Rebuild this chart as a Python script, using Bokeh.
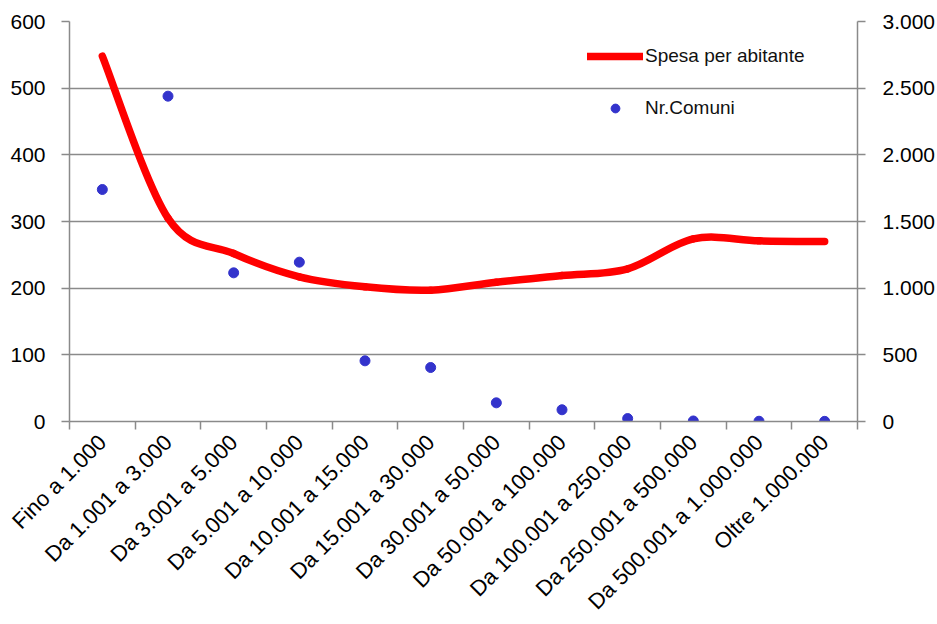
import numpy as np
from bokeh.plotting import figure
from bokeh.models import Range1d, LinearAxis, FixedTicker, Legend, LegendItem, ColumnDataSource
from bokeh.embed import file_html
from bokeh.resources import INLINE

categories = ["Fino a 1.000", "Da 1.001 a 3.000", "Da 3.001 a 5.000", "Da 5.001 a 10.000",
              "Da 10.001 a 15.000", "Da 15.001 a 30.000", "Da 30.001 a 50.000",
              "Da 50.001 a 100.000", "Da 100.001 a 250.000", "Da 250.001 a 500.000",
              "Da 500.001 a 1.000.000", "Oltre 1.000.000"]
spesa = [548, 305, 252, 217, 202, 197, 209, 219, 229, 274, 271, 270]
comuni = [1740, 2440, 1115, 1195, 455, 405, 140, 88, 22, 4, 2, 1]
left_ticks = [0, 100, 200, 300, 400, 500, 600]
right_ticks = [0, 500, 1000, 1500, 2000, 2500, 3000]
right_labels = ["0", "500", "1.000", "1.500", "2.000", "2.500", "3.000"]

FONT = "Liberation Sans"
GRAY = "#8a8a8a"

n = len(categories)
xc = np.arange(n) + 0.5

p = figure(frame_width=788, frame_height=400, output_backend="svg", toolbar_location=None,
           x_range=Range1d(0, n), y_range=Range1d(0, 600),
           min_border_left=69, min_border_right=72, min_border_top=21, min_border_bottom=180)
p.outline_line_color = None
p.background_fill_color = "white"
p.border_fill_color = "white"
p.extra_y_ranges = {"right": Range1d(0, 3000)}

# grid
p.xgrid.visible = False
p.ygrid.ticker = FixedTicker(ticks=left_ticks)
p.ygrid.grid_line_color = GRAY
p.ygrid.grid_line_width = 1.5

# x axis
xa = p.xaxis[0]
xa.ticker = FixedTicker(ticks=list(xc), minor_ticks=list(range(n + 1)))
xa.major_label_overrides = {float(x): c for x, c in zip(xc, categories)}
xa.major_tick_line_color = None
xa.minor_tick_line_color = GRAY
xa.minor_tick_line_width = 1.5
xa.minor_tick_out = 8
xa.minor_tick_in = 0
xa.axis_line_color = GRAY
xa.axis_line_width = 1.5
xa.major_label_orientation = np.pi / 4
xa.major_label_text_font = FONT
xa.major_label_text_font_size = "22px"
xa.major_label_text_color = "black"
xa.major_label_standoff = 9

# left axis
ya = p.yaxis[0]
ya.ticker = FixedTicker(ticks=left_ticks)
ya.minor_tick_line_color = None
ya.major_tick_line_color = GRAY
ya.major_tick_line_width = 1.5
ya.major_tick_out = 8
ya.major_tick_in = 0
ya.axis_line_color = GRAY
ya.axis_line_width = 1.5
ya.major_label_text_font = FONT
ya.major_label_text_font_size = "21px"
ya.major_label_text_color = "black"
ya.major_label_standoff = 16

# right axis
ra = LinearAxis(y_range_name="right", ticker=FixedTicker(ticks=right_ticks))
ra.major_label_overrides = {t: l for t, l in zip(right_ticks, right_labels)}
ra.minor_tick_line_color = None
ra.major_tick_line_color = GRAY
ra.major_tick_line_width = 1.5
ra.major_tick_out = 8
ra.major_tick_in = 0
ra.axis_line_color = GRAY
ra.axis_line_width = 1.5
ra.major_label_text_font = FONT
ra.major_label_text_font_size = "21px"
ra.major_label_text_color = "black"
ra.major_label_standoff = 17
p.add_layout(ra, "right")

# smoothed line (Catmull-Rom style bezier through data points)
ys = np.array(spesa, dtype=float)
xs = xc.astype(float)
xp = np.concatenate([[xs[0]], xs, [xs[-1]]])
yp = np.concatenate([[ys[0]], ys, [ys[-1]]])
x0, y0, x1, y1, cx0, cy0, cx1, cy1 = [], [], [], [], [], [], [], []
for i in range(n - 1):
    a, b, c, d = i, i + 1, i + 2, i + 3
    x0.append(xp[b]); y0.append(yp[b])
    x1.append(xp[c]); y1.append(yp[c])
    cx0.append(xp[b] + (xp[c] - xp[a]) / 6); cy0.append(yp[b] + (yp[c] - yp[a]) / 6)
    cx1.append(xp[c] - (xp[d] - xp[b]) / 6); cy1.append(yp[c] - (yp[d] - yp[b]) / 6)
bsrc = ColumnDataSource(dict(x0=x0, y0=y0, x1=x1, y1=y1, cx0=cx0, cy0=cy0, cx1=cx1, cy1=cy1))
line_r = p.bezier(x0="x0", y0="y0", x1="x1", y1="y1", cx0="cx0", cy0="cy0", cx1="cx1", cy1="cy1",
                  source=bsrc, line_color="#ff0000", line_width=7.5, line_cap="round")

dots = p.scatter(xc, comuni, y_range_name="right", size=10, fill_color="#3333cc",
                 line_color="#3333cc")

legend = Legend(items=[LegendItem(label="Spesa per abitante", renderers=[line_r]),
                       LegendItem(label="Nr.Comuni", renderers=[dots])],
                location=(518, 302), padding=0, spacing=30, glyph_width=56, glyph_height=22,
                label_standoff=2, border_line_color=None, background_fill_alpha=0,
                label_text_font=FONT, label_text_font_size="19px", label_text_color="#111111")
p.add_layout(legend)

open("out.html", "w").write(file_html(p, INLINE))
